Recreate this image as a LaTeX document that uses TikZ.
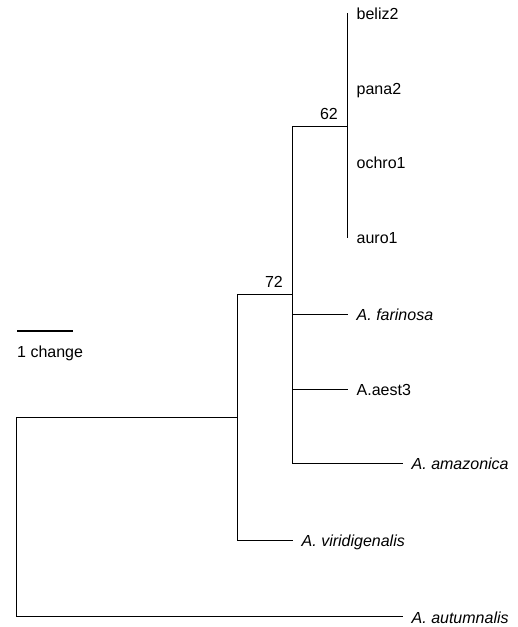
\documentclass[tikz,border=0pt]{standalone}
\usepackage{fontspec}
\setmainfont{Liberation Sans}
\begin{document}
\begin{tikzpicture}[x=1pt,y=1pt,
  branch/.style={line width=1pt, line cap=rect, line join=miter},
  scalebar/.style={line width=1.8pt},
  lab/.style={inner sep=0pt, font=\fontsize{16}{19}\selectfont},
  tiplab/.style={lab, anchor=base west, xshift=9.5pt, yshift=-6pt},
  support/.style={lab, anchor=base east, xshift=-9pt, yshift=7.5pt}]
\useasboundingbox (0,0) rectangle (518,627);
% tips
\coordinate (b)   at (347,613.5);
\coordinate (p)   at (347,538);
\coordinate (o)   at (347,464);
\coordinate (au)  at (347,389);
\coordinate (f)   at (347,312);
\coordinate (ae)  at (347,237);
\coordinate (am)  at (402,163);
\coordinate (v)   at (292,86);
\coordinate (aut) at (402,10);
% internal nodes
\coordinate (n62)  at (347,500);
\coordinate (n72)  at (292,332);
\coordinate (n1)   at (237,209);
\coordinate (root) at (16,110);
% branches
\draw[branch] (b) -- (au);
\draw[branch] (n62) -| (n72);
\draw[branch] (f) -| (n72);
\draw[branch] (ae) -| (n72);
\draw[branch] (am) -| (n72);
\draw[branch] (n72) -| (n1);
\draw[branch] (v) -| (n1);
\draw[branch] (n1) -| (root);
\draw[branch] (aut) -| (root);
% tip labels
\node[tiplab] (lb)   at (b)   {beliz2};
\node[tiplab] (lp)   at (p)   {pana2};
\node[tiplab] (lo)   at (o)   {ochro1};
\node[tiplab] (lau)  at (au)  {auro1};
\node[tiplab] (lf)   at (f)   {\itshape A. farinosa};
\node[tiplab] (lae)  at (ae)  {A.aest3};
\node[tiplab] (lam)  at (am)  {\itshape A. amazonica};
\node[tiplab] (lv)   at (v)   {\itshape A. viridigenalis};
\node[tiplab] (laut) at (aut) {\itshape A. autumnalis};
% support values
\node[support] (s62) at (n62) {62};
\node[support] (s72) at (n72) {72};
% scale bar
\coordinate (sb1) at (17,296);
\coordinate (sb2) at (73,296);
\draw[scalebar] (sb1) -- (sb2);
\node[lab, anchor=base west] (sbl) at (17,269) {1 change};
\end{tikzpicture}
\end{document}
